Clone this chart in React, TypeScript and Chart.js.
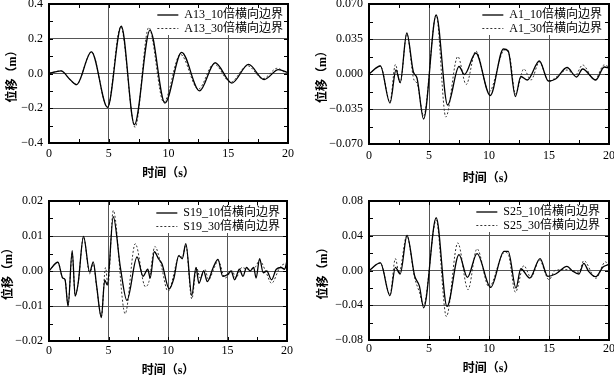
import React, { useEffect, useRef } from "react";
import { Chart, registerables } from "chart.js";

Chart.register(...registerables);

// ---- axis ticks ----
const xTicks = [0, 5, 10, 15, 20];
const xMinor = [2.5, 5, 7.5, 10, 12.5, 15, 17.5];

const yTicksA13 = [-0.4, -0.2, 0, 0.2, 0.4];
const yMinorA13 = [-0.3, -0.2, -0.1, 0, 0.1, 0.2, 0.3];
const yTicksA1 = [-0.07, -0.035, 0, 0.035, 0.07];
const yMinorA1 = [-0.0525, -0.035, -0.0175, 0, 0.0175, 0.035, 0.0525];
const yTicksS19 = [-0.02, -0.01, 0, 0.01, 0.02];
const yMinorS19 = [-0.015, -0.01, -0.005, 0, 0.005, 0.01, 0.015];
const yTicksS25 = [-0.08, -0.04, 0, 0.04, 0.08];
const yMinorS25 = [-0.06, -0.04, -0.02, 0, 0.02, 0.04, 0.06];

// ---- series labels ----
const labelsA13 = ["A13_10倍横向边界", "A13_30倍横向边界"];
const labelsA1 = ["A1_10倍横向边界", "A1_30倍横向边界"];
const labelsS19 = ["S19_10倍横向边界", "S19_30倍横向边界"];
const labelsS25 = ["S25_10倍横向边界", "S25_30倍横向边界"];

// ---- A13 ----
const tA13_10 = [0, 1.0, 1.8, 2.3, 3.55, 4.9, 6.05, 7.15, 8.45, 9.7, 11.1, 12.6, 13.9, 15.3, 16.7, 18.0, 19.2, 20];
const vA13_10 = [0, 0.015, -0.038, -0.064, 0.125, -0.195, 0.272, -0.295, 0.25, -0.17, 0.122, -0.1, 0.062, -0.055, 0.052, -0.035, 0.022, 0.005];
const tA13_30 = [0, 1.0, 1.8, 2.3, 3.55, 4.9, 6.0, 7.2, 8.35, 9.6, 11.0, 12.5, 13.8, 15.2, 16.6, 17.9, 19.1, 20];
const vA13_30 = [0, 0.015, -0.038, -0.064, 0.125, -0.195, 0.27, -0.31, 0.265, -0.165, 0.11, -0.09, 0.055, -0.05, 0.045, -0.03, 0.03, -0.01];

// ---- A1 ----
const tA1_10 = [0, 0.95, 1.75, 2.25, 2.6, 3.15, 3.7, 4.0, 4.55, 5.6, 6.55, 7.5, 7.95, 8.9, 10.1, 11.2, 11.6, 12.2, 12.65, 13.2, 14.2, 14.95, 15.55, 16.5, 17.3, 17.8, 18.9, 19.6, 20];
const vA1_10 = [0, 0.008, -0.029, 0.004, -0.0085, 0.041, 0.002, -0.004, -0.045, 0.059, -0.031, 0.0075, -0.0005, 0.021, -0.0215, 0.025, 0.023, -0.0225, -0.0025, -0.006, 0.013, -0.007, -0.005, 0.0065, -0.003, 0.005, -0.006, 0.007, 0.006];
const tA1_30 = [0, 0.95, 1.75, 2.2, 2.6, 3.15, 3.75, 4.0, 4.55, 5.6, 6.4, 7.4, 8.1, 8.9, 10.0, 11.3, 11.7, 12.2, 12.9, 13.5, 14.2, 15.0, 15.5, 16.5, 17.2, 17.8, 18.8, 19.6, 20];
const vA1_30 = [0, 0.008, -0.028, 0.0095, -0.009, 0.04, -0.006, -0.009, -0.042, 0.059, -0.043, 0.0175, -0.0105, 0.023, -0.018, 0.024, 0.019, -0.02, 0.005, -0.006, 0.012, -0.008, -0.004, 0.004, -0.001, 0.009, -0.006, 0.009, 0.007];

// ---- S19 ----
const tS19_10 = [0, 0.75, 1.15, 1.35, 1.6, 1.95, 2.2, 2.45, 2.9, 3.42, 3.72, 4.0, 4.4, 4.68, 4.9, 5.4, 6.0, 6.55, 7.4, 7.9, 8.3, 8.5, 8.85, 9.2, 9.5, 10.1, 10.5, 10.9, 11.2, 11.5, 12.0, 12.35, 12.6, 13.0, 13.3, 13.8, 14.2, 14.6, 15.0, 15.3, 15.6, 16.0, 16.3, 16.6, 16.9, 17.2, 17.4, 17.7, 18.0, 18.3, 18.7, 19.1, 19.5, 19.8, 20];
const vS19_10 = [0, 0.0025, -0.002, -0.0025, -0.0101, 0.0058, -0.0072, -0.0035, 0.0099, -0.0003, 0.0026, -0.0042, -0.0133, -0.0026, -0.004, 0.0155, 0.001, -0.0084, 0.004, -0.0015, 0.0005, -0.002, 0.0055, 0.0035, 0.002, -0.0051, -0.002, 0.0044, 0.0035, 0.0078, -0.007, 0.001, -0.0035, 0.0, -0.003, 0.001, 0.0033, -0.0015, -0.001, 0.0, -0.0025, 0.0005, -0.0015, 0.001, 0.0, 0.001, -0.002, 0.0035, -0.0005, 0.0, -0.0025, 0.0005, 0.001, 0.0005, 0.003];
const tS19_30 = [0, 0.75, 1.15, 1.35, 1.6, 1.95, 2.2, 2.45, 2.9, 3.42, 3.72, 4.0, 4.4, 4.75, 4.95, 5.4, 6.4, 7.25, 8.1, 8.4, 8.9, 9.4, 10.0, 11.0, 11.2, 11.5, 12.0, 12.4, 12.7, 13.1, 13.4, 13.9, 14.2, 14.8, 15.4, 15.7, 16.2, 16.7, 17.3, 17.7, 18.2, 18.7, 19.4, 19.8, 20];
const vS19_30 = [0, 0.0025, -0.002, -0.0025, -0.0097, 0.005, -0.007, -0.0035, 0.0097, -0.0008, 0.002, -0.0045, -0.013, 0.001, -0.004, 0.0173, -0.0122, 0.0078, -0.0045, -0.003, 0.007, 0.002, -0.0058, 0.0045, 0.0038, 0.0075, -0.008, 0.001, -0.002, 0.0005, -0.0025, 0.001, 0.003, -0.002, 0.0, -0.002, 0.001, 0.0005, 0.001, 0.003, 0.0, -0.0035, 0.001, 0.002, 0.002];

// ---- S25 ----
const tS25_10 = [0, 0.95, 1.75, 2.2, 2.6, 3.17, 3.8, 4.2, 4.56, 5.6, 6.5, 7.5, 8.2, 9.0, 10.14, 11.25, 11.6, 12.25, 12.65, 13.4, 14.25, 14.9, 15.55, 16.5, 17.0, 17.5, 17.9, 18.3, 18.9, 19.5, 20];
const vS25_10 = [0, 0.0087, -0.029, 0.0037, -0.004, 0.0403, -0.006, -0.018, -0.043, 0.0607, -0.0415, 0.0183, -0.0079, 0.0195, -0.0195, 0.022, 0.022, -0.0202, 0.002, -0.0087, 0.0137, -0.0067, -0.004, 0.0048, -0.001, -0.004, 0.0083, -0.001, -0.0071, 0.004, 0.007];
const tS25_30 = [0, 0.95, 1.75, 2.2, 2.5, 3.15, 3.8, 4.2, 4.55, 5.6, 6.45, 7.4, 8.25, 9.0, 10.0, 11.3, 11.6, 12.2, 12.9, 13.5, 14.2, 15.0, 15.5, 16.3, 17.0, 17.5, 17.9, 18.9, 19.7, 20];
const vS25_30 = [0, 0.0087, -0.028, 0.0137, -0.003, 0.04, -0.008, -0.025, -0.04, 0.058, -0.053, 0.0318, -0.022, 0.025, -0.019, 0.021, 0.019, -0.025, 0.0056, -0.008, 0.012, -0.0106, 0.0, 0.001, 0.0, -0.002, 0.0114, -0.009, 0.01, 0.006];

const LATIN = "'Liberation Serif', 'Noto Sans CJK SC', serif";

type Panel = {
  left: number; top: number; w: number; h: number;
  yw: number; padR: number; padT: number; xh: number;
  yTitlePad: number; xTitlePad: number; xTickPad: number;
  legendRight: number; legendRow1: number;
  yTicks: number[]; yMinor: number[]; digits: number;
  labels: string[];
  t1: number[]; v1: number[]; t2: number[]; v2: number[];
};

const panels: Panel[] = [
  { left: 0, top: 0, w: 307, h: 188, yw: 49, padR: 19, padT: 4, xh: 45, yTitlePad: 6, xTitlePad: 7, xTickPad: 4,
    legendRight: 5, legendRow1: 11, yTicks: yTicksA13, yMinor: yMinorA13, digits: 1, labels: labelsA13,
    t1: tA13_10, v1: vA13_10, t2: tA13_30, v2: vA13_30 },
  { left: 307, top: 0, w: 307, h: 188, yw: 62, padR: 5, padT: 4, xh: 44, yTitlePad: 9, xTitlePad: 2, xTickPad: 5,
    legendRight: 7, legendRow1: 11, yTicks: yTicksA1, yMinor: yMinorA1, digits: 3, labels: labelsA1,
    t1: tA1_10, v1: vA1_10, t2: tA1_30, v2: vA1_30 },
  { left: 0, top: 188, w: 307, h: 188, yw: 49, padR: 20, padT: 13, xh: 35, yTitlePad: 2, xTitlePad: -2, xTickPad: 3,
    legendRight: 7, legendRow1: 12, yTicks: yTicksS19, yMinor: yMinorS19, digits: 2, labels: labelsS19,
    t1: tS19_10, v1: vS19_10, t2: tS19_30, v2: vS19_30 },
  { left: 307, top: 188, w: 307, h: 188, yw: 62, padR: 5, padT: 13, xh: 36, yTitlePad: 10, xTitlePad: 0, xTickPad: 2,
    legendRight: 9, legendRow1: 11, yTicks: yTicksS25, yMinor: yMinorS25, digits: 2, labels: labelsS25,
    t1: tS25_10, v1: vS25_10, t2: tS25_30, v2: vS25_30 },
];

const framePlugin = {
  id: "frame",
  afterDatasetsDraw(chart: any, _args: any, opts: any) {
    const { ctx, chartArea: a, scales } = chart;
    const p: Panel = opts.panel;
    ctx.save();
    // legend
    ctx.font = `12px ${LATIN}`;
    const ds = chart.data.datasets;
    const widths = ds.map((d: any) => ctx.measureText(d.label).width);
    const tw = Math.max(...widths);
    const textX = a.right - p.legendRight - tw;
    const lineX1 = textX - 6;
    const lineX0 = lineX1 - 21;
    ctx.fillStyle = "#fff";
    ctx.fillRect(lineX0 - 4, a.top, a.right - (lineX0 - 4), p.legendRow1 + 20);
    ds.forEach((d: any, i: number) => {
      const y = a.top + p.legendRow1 + i * 13.5;
      ctx.strokeStyle = d.borderColor;
      ctx.lineWidth = d.borderWidth;
      ctx.setLineDash(d.borderDash || []);
      ctx.beginPath();
      ctx.moveTo(lineX0, y);
      ctx.lineTo(lineX1, y);
      ctx.stroke();
      ctx.setLineDash([]);
      ctx.fillStyle = "#000";
      ctx.textBaseline = "middle";
      ctx.textAlign = "left";
      ctx.fillText(d.label, textX, y);
    });
    // inward ticks
    ctx.strokeStyle = "#000";
    ctx.lineWidth = 1;
    const L = 4;
    ctx.beginPath();
    xMinor.forEach((v) => {
      const px = Math.round(scales.x.getPixelForValue(v)) + 0.5;
      ctx.moveTo(px, a.bottom); ctx.lineTo(px, a.bottom - L);
      ctx.moveTo(px, a.top); ctx.lineTo(px, a.top + L);
    });
    p.yMinor.forEach((v) => {
      const py = Math.round(scales.y.getPixelForValue(v)) + 0.5;
      ctx.moveTo(a.left, py); ctx.lineTo(a.left + L, py);
      ctx.moveTo(a.right, py); ctx.lineTo(a.right - L, py);
    });
    ctx.stroke();
    // frame
    ctx.lineWidth = 2;
    ctx.strokeRect(a.left, a.top, a.right - a.left, a.bottom - a.top);
    ctx.restore();
  },
};

function fmt(v: number, d: number) {
  const s = Math.abs(v) < 1e-12 ? (0).toFixed(d) : v.toFixed(d);
  return s.replace("-", "\u2212");
}

function PanelChart({ p }: { p: Panel }) {
  const ref = useRef<HTMLCanvasElement>(null);
  useEffect(() => {
    if (!ref.current) return;
    const tickFont = { family: LATIN, size: 12 };
    const titleFont = { family: LATIN, size: 12, weight: "bold" as const, lineHeight: 1.2 };
    const chart = new Chart(ref.current, {
      type: "line",
      data: {
        datasets: [
          {
            label: p.labels[0],
            data: p.t1.map((t, i) => ({ x: t, y: p.v1[i] })),
            borderColor: "#000",
            borderWidth: 1.3,
            pointRadius: 0,
            cubicInterpolationMode: "monotone",
            fill: false,
          },
          {
            label: p.labels[1],
            data: p.t2.map((t, i) => ({ x: t, y: p.v2[i] })),
            borderColor: "#333",
            borderWidth: 1,
            borderDash: [2, 2],
            pointRadius: 0,
            cubicInterpolationMode: "monotone",
            fill: false,
          },
        ],
      },
      options: {
        responsive: false,
        animation: false,
        layout: { autoPadding: false, padding: { left: 0, right: p.padR, top: p.padT, bottom: 0 } },
        plugins: {
          legend: { display: false },
          tooltip: { enabled: false },
          // @ts-ignore
          frame: { panel: p },
        },
        scales: {
          x: {
            type: "linear",
            min: 0,
            max: 20,
            afterBuildTicks: (s: any) => { s.ticks = xTicks.map((v) => ({ value: v })); },
            afterFit: (s: any) => { s.height = p.xh; s.paddingLeft = 0; s.paddingRight = 0; },
            grid: { color: "#555", lineWidth: 1, drawTicks: false },
            border: { display: false },
            ticks: { padding: p.xTickPad, font: tickFont, color: "#000", maxRotation: 0, autoSkip: false, callback: (v: any) => String(v) },
            title: { display: true, text: "时间（s）", font: titleFont, color: "#000", padding: { top: 0, bottom: p.xTitlePad } },
          },
          y: {
            type: "linear",
            min: p.yTicks[0],
            max: p.yTicks[p.yTicks.length - 1],
            afterBuildTicks: (s: any) => { s.ticks = p.yTicks.map((v) => ({ value: v })); },
            afterFit: (s: any) => { s.width = p.yw; s.paddingTop = 0; s.paddingBottom = 0; },
            grid: { color: "#555", lineWidth: 1, drawTicks: false },
            border: { display: false },
            ticks: { padding: 6, font: tickFont, color: "#000", autoSkip: false, callback: (v: any) => fmt(Number(v), p.digits) },
            title: { display: true, text: "位移（m）", font: titleFont, color: "#000", padding: { top: p.yTitlePad, bottom: 0 } },
          },
        },
      } as any,
      plugins: [framePlugin as any],
    });
    return () => chart.destroy();
  }, [p]);
  return (
    <div style={{ position: "absolute", left: p.left, top: p.top, width: p.w, height: p.h }}>
      <canvas ref={ref} width={p.w} height={p.h} style={{ display: "block" }} />
    </div>
  );
}

export default function App() {
  return (
    <div style={{ position: "absolute", left: 0, top: 0, width: 614, height: 376, background: "#fff" }}>
      {panels.map((p, i) => (
        <PanelChart key={i} p={p} />
      ))}
    </div>
  );
}
